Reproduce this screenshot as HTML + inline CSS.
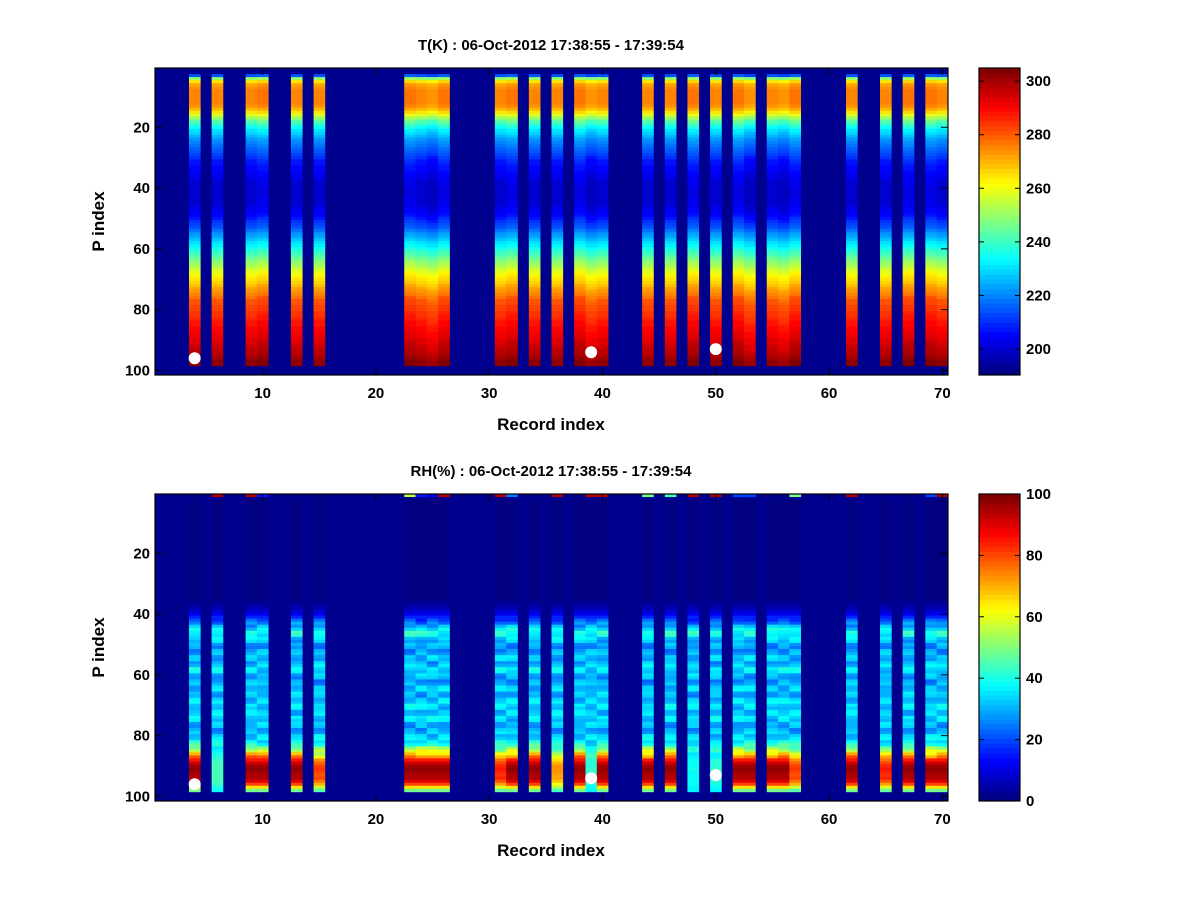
<!DOCTYPE html>
<html><head><meta charset="utf-8"><style>
body{margin:0;background:#fff;}
svg{display:block;font-family:"Liberation Sans",sans-serif;font-weight:bold;}
</style></head><body>
<svg id="fig" width="1200" height="900" viewBox="0 0 1200 900" xmlns="http://www.w3.org/2000/svg"></svg>
<script>
// ---- data ----
const records = [4,6,9,10,13,15,23,24,25,26,31,32,34,36,38,39,40,44,46,48,50,52,53,55,56,57,62,65,67,69,70];
const tempOffset = [0,0,0,1,0,0,1,0,-1,1,0,1,0,0,1,-1,0,0,0,1,0,1,-1,0,-1,1,0,0,1,1,0];
const tempProfile = [215,250,265,272,274,275,276,276,276,275,274,270,264,258,250,244,239,235,231,228,225,222,220,218,216,214,212,210,208,207,206,205,204,203,202,201,201,200,200,200,200,201,201,202,203,204,206,208,210,212,215,218,221,224,227,230,233,236,239,242,245,248,251,254,257,260,263,265,267,269,271,273,276,278,280,281,282,283,284,285,286,287,288,289,290,291,292,293,294,295,296,297,298,301,303,303];
const rhProfile = [0,0,0,0,0,0,0,0,0,0,0,0,0,0,0,0,0,0,0,0,0,0,0,0,0,0,0,0,0,0,0,0,0,2,4,6,9,12,16,20,25,30,36,40,38,34,31,29,27,28,30,32,31,30,33,36,34,31,29,28,30,32,33,31,30,32,34,35,33,32,33,35,33,31,30,29,31,33,35,37,42,50,58,66,75,85,92,96,98,96,94,95,90,80,65,50];
const rhBottomScale = [1,0.15,1,1,1,0.75,1,1,1,1,0.8,1,1,0.6,1,0.1,1,1,1,0.05,0.1,1,1,1,1,0.75,1,0.8,1,1,1];
const rhNoise = [0,3,-4,2,-3,5,-2,4,-5,1,4,-3];
const rhTop = [0,95,95,15,0,0,55,15,10,95,95,25,0,95,0,95,95,50,45,95,95,20,20,0,0,50,95,0,0,20,95];
const dotRecord = [4,39,50];
const dotLevel = [96,94,93];
const firstRow = 3;
const tTicks = [200,220,240,260,280,300];
const rhTicks = [0,20,40,60,80,100];
const xTicks = [10,20,30,40,50,60,70];
const yTicks = [20,40,60,80,100];

const NS="http://www.w3.org/2000/svg";
const svg=document.getElementById('fig');
function mk(tag,attrs,parent){const e=document.createElementNS(NS,tag);for(const k in attrs)e.setAttribute(k,attrs[k]);(parent||svg).appendChild(e);return e;}
function jet(t){t=Math.max(0,Math.min(1,t));t=Math.floor(t*63.999)/63;
 const f=x=>Math.round(255*Math.max(0,Math.min(1,x)));
 return `rgb(${f(1.5-Math.abs(4*t-3))},${f(1.5-Math.abs(4*t-2))},${f(1.5-Math.abs(4*t-1))})`;}

function panel(cfg){
 const L=155,R=948,T=cfg.top,B=cfg.top+307;
 const xs=v=>L+(v-0.5)*(R-L)/70;
 const ys=v=>T+(v-0.5)*(B-T)/101;
 const g=mk('g',{});
 
 
 const bg=mk('rect',{x:L,y:T,width:R-L,height:B-T,fill:'#00008f'},g);
 
 
 const cw=(R-L)/70,rh=(B-T)/101;
 records.forEach((rec,ci)=>{
  const col=mk('g',{},g);
  
  
  if(cfg.top0!==undefined){
   const c=mk('rect',{x:xs(rec-0.5),y:ys(0.5),width:cw+0.3,height:rh,fill:jet(rhTop[ci]/100)},col);
   
   
  }
  for(let i=0;i<cfg.profile.length;i++){
   const row=firstRow+i;
   const v=cfg.value(ci,i,row);
   const c=mk('rect',{x:xs(rec-0.5),y:ys(row-0.5),width:cw+0.3,height:rh+0.3,fill:jet((v-cfg.lo)/(cfg.hi-cfg.lo))},col);
   
   
  }
 });
 dotRecord.forEach((d,i)=>{
  const c=mk('circle',{cx:xs(d),cy:ys(dotLevel[i]),r:6,fill:'#fff'},g);
  
  
 });
 const fr=mk('rect',{x:L,y:T,width:R-L,height:B-T,fill:'none',stroke:'#000','stroke-width':1.2},g);
 
 
 xTicks.forEach(t=>{
  mk('line',{x1:xs(t),x2:xs(t),y1:B,y2:B-7,stroke:'#000'},g);
  mk('line',{x1:xs(t),x2:xs(t),y1:T,y2:T+7,stroke:'#000'},g);
  const tx=mk('text',{x:xs(t),y:B+23,'text-anchor':'middle','font-size':15},g);tx.textContent=t;
  
  
 });
 yTicks.forEach(t=>{
  mk('line',{x1:L,x2:L+7,y1:ys(t),y2:ys(t),stroke:'#000'},g);
  mk('line',{x1:R,x2:R-7,y1:ys(t),y2:ys(t),stroke:'#000'},g);
  const tx=mk('text',{x:L-5,y:ys(t)+5,'text-anchor':'end','font-size':15},g);tx.textContent=t;
  
  
 });
 const ti=mk('text',{x:551,y:T-18,'text-anchor':'middle','font-size':15},g);ti.textContent=cfg.title;
 
 
 const xl=mk('text',{x:551,y:B+55,'text-anchor':'middle','font-size':17},g);xl.textContent='Record index';
 
 
 const yl=mk('text',{x:0,y:0,'text-anchor':'middle','font-size':17,transform:`translate(104,${(T+B)/2}) rotate(-90)`},g);yl.textContent='P index';
 
 
 // colorbar
 const CL=979,CR=1020;
 const cb=mk('g',{},g);
 
 
 for(let k=0;k<64;k++){
  const h=(B-T)/64;
  mk('rect',{x:CL,y:B-(k+1)*h,width:CR-CL,height:h+0.4,fill:jet(k/63)},cb);
 }
 mk('rect',{x:CL,y:T,width:CR-CL,height:B-T,fill:'none',stroke:'#000','stroke-width':1.2},cb);
 const cy=v=>B-(v-cfg.lo)/(cfg.hi-cfg.lo)*(B-T);
 cfg.ticks.forEach(t=>{
  mk('line',{x1:CR,x2:CR-5,y1:cy(t),y2:cy(t),stroke:'#000'},cb);
  mk('line',{x1:CL,x2:CL+5,y1:cy(t),y2:cy(t),stroke:'#000'},cb);
  const tx=mk('text',{x:CR+6,y:cy(t)+5,'font-size':15},cb);tx.textContent=t;
  
  
 });
}
panel({name:'temperature',top:68,lo:190.3,hi:304.9,ticks:tTicks,profile:tempProfile,
 title:'T(K) : 06-Oct-2012 17:38:55 - 17:39:54',
 value:(ci,i)=>tempProfile[i]+tempOffset[ci]*2});
panel({name:'humidity',top:494,top0:true,lo:0,hi:100,ticks:rhTicks,profile:rhProfile,
 title:'RH(%) : 06-Oct-2012 17:38:55 - 17:39:54',
 value:(ci,i,row)=>{let v=rhProfile[i];if(v<=0)return 0;
  if(row>=82){v=36+(v-36)*rhBottomScale[ci];}
  if(row<88&&row>=42)v+=rhNoise[(Math.floor(row/2)+ci*5)%12];
  return Math.max(0,Math.min(100,v));}});
</script>
</body></html>
